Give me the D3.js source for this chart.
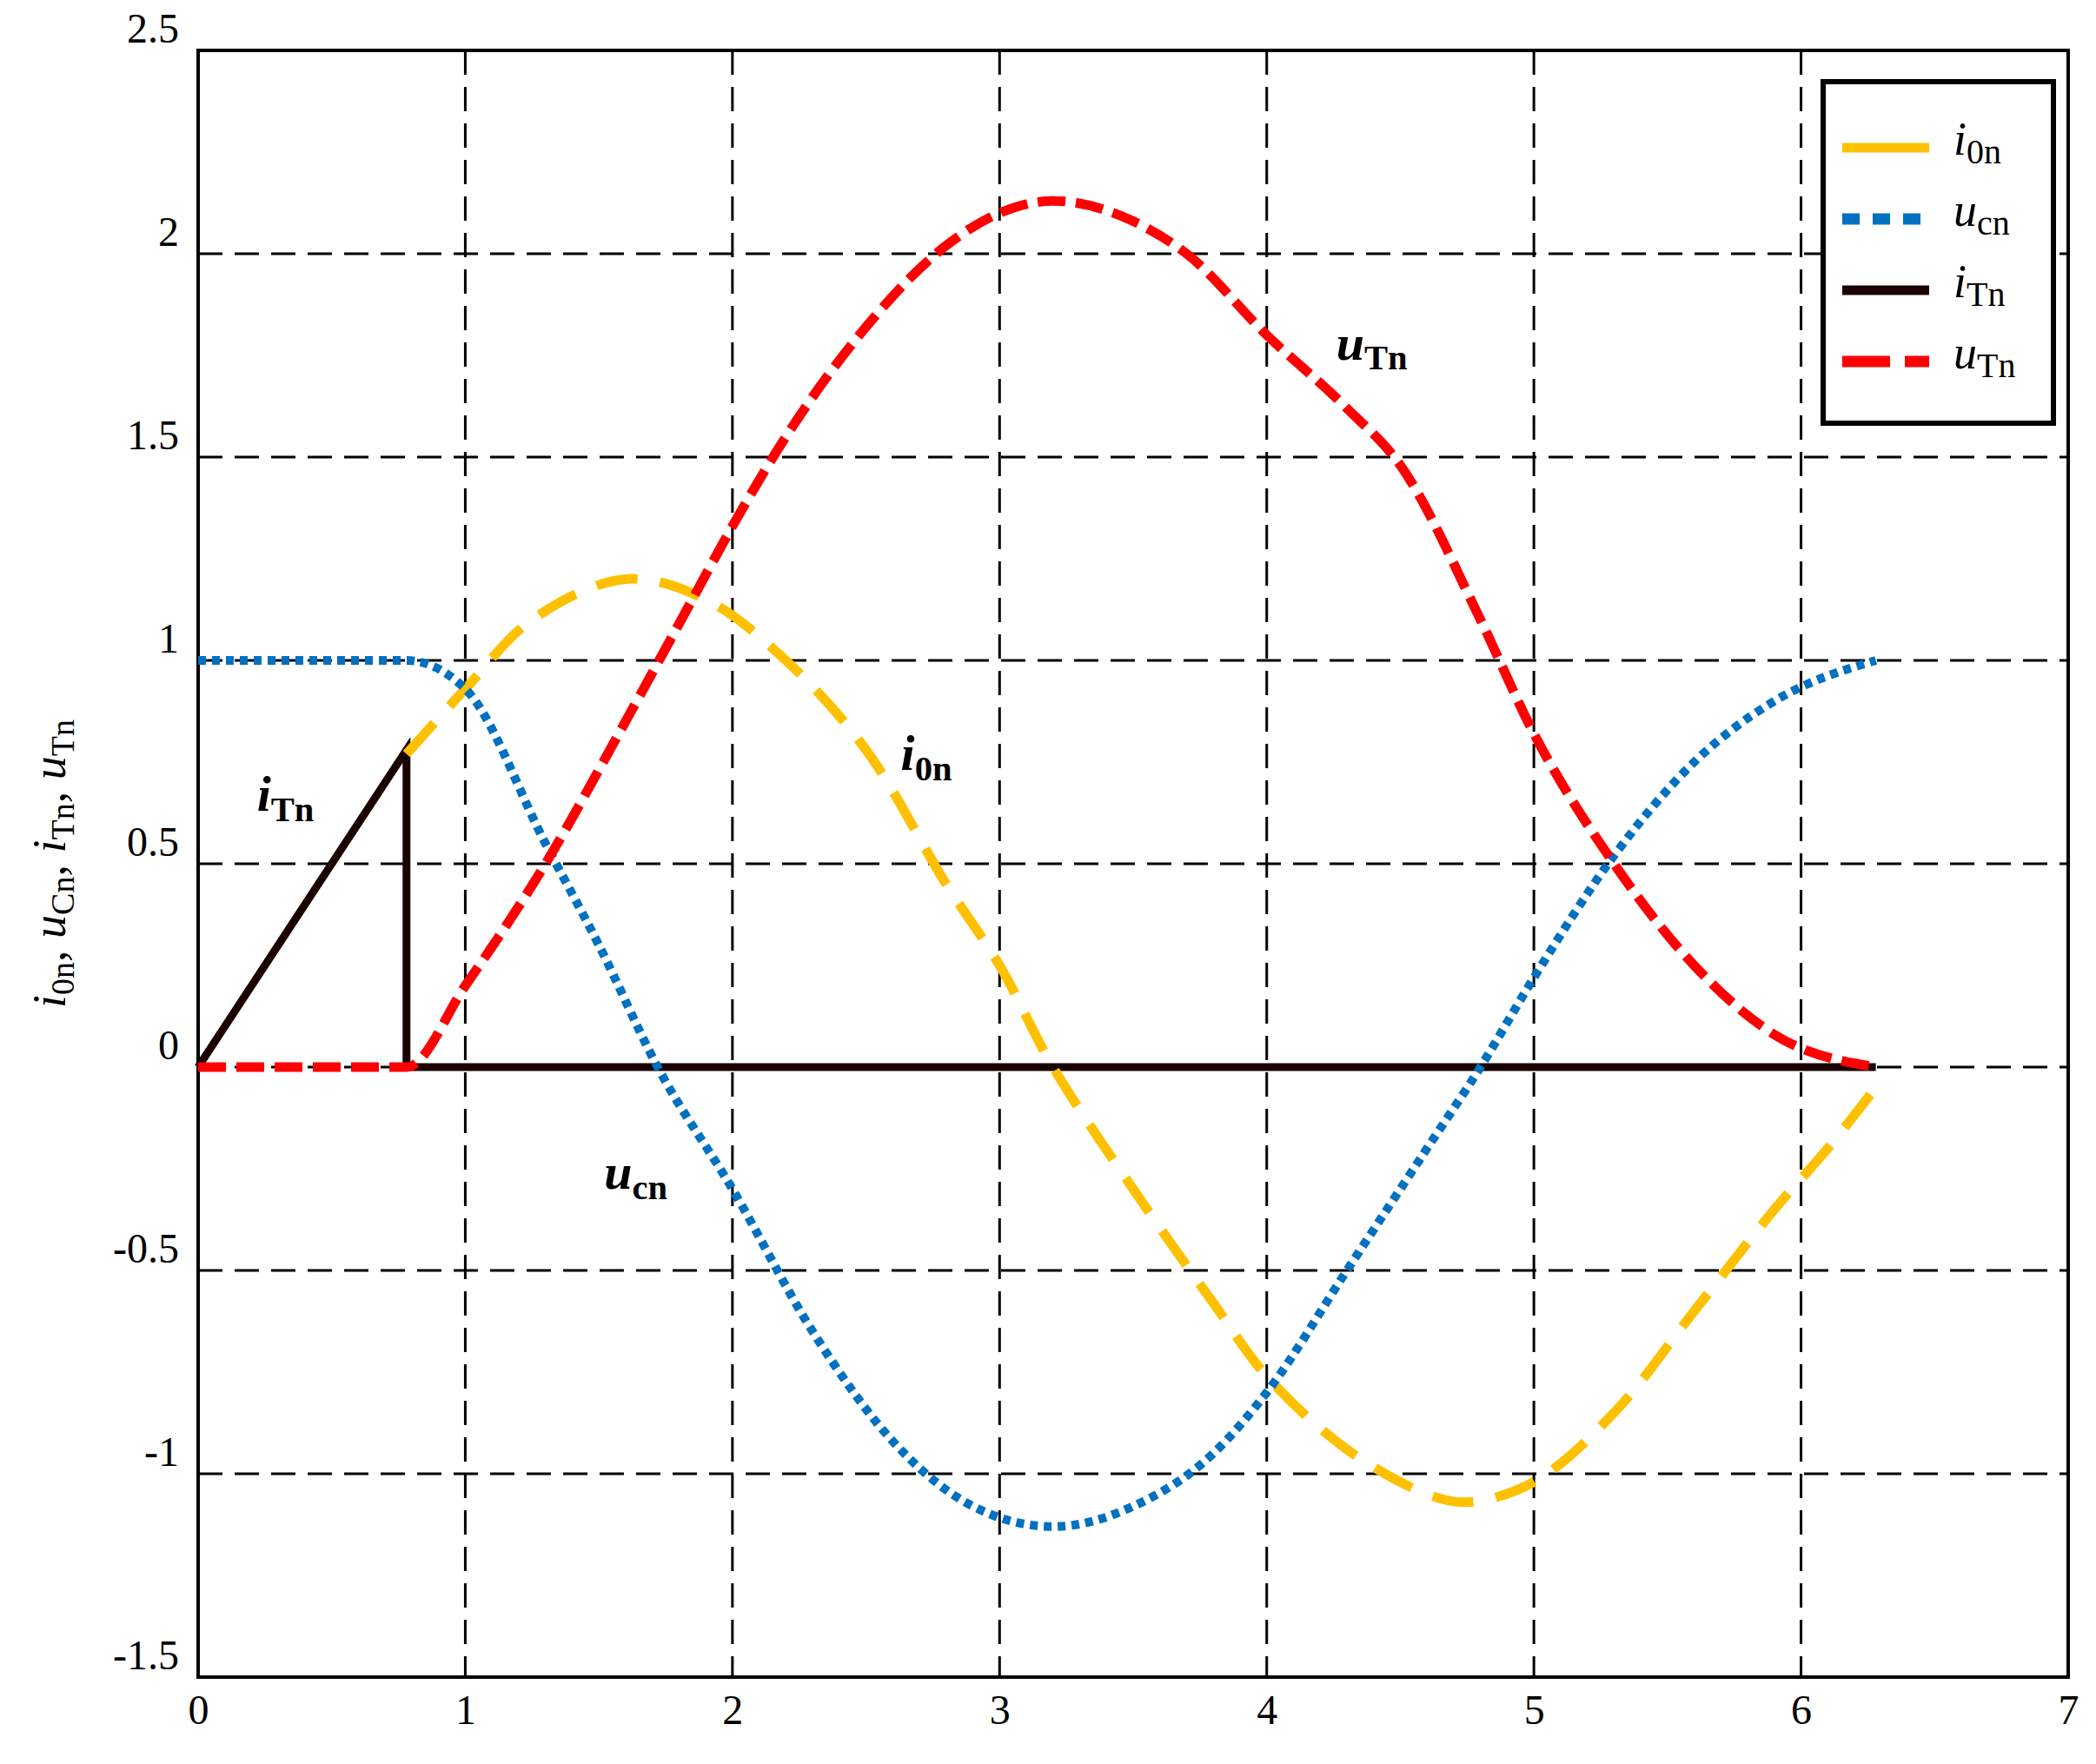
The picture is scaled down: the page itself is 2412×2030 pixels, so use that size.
<!DOCTYPE html>
<html><head><meta charset="utf-8">
<script src="https://cdn.jsdelivr.net/npm/d3@7"></script>
<style>body{margin:0;background:#fff}svg text{font-family:"Liberation Serif","DejaVu Serif",serif}</style>
</head><body><svg id="c" width="2412" height="2030"></svg>
<script>
const xTicks=[0,1,2,3,4,5,6,7];
const yTicks=[-1.5,-1,-0.5,0,0.5,1,1.5,2,2.5];
const i0nX=[0.78,1,1.25,1.6,1.9,2.2,2.5,2.8,3.0,3.2,3.5,3.8,4.0,4.3,4.6,4.75,5.0,5.3,5.6,5.9,6.1,6.28];
const i0nY=[0.77,0.93,1.1,1.2,1.15,1.0,0.78,0.45,0.25,0.0,-0.3,-0.58,-0.76,-0.94,-1.05,-1.07,-1.02,-0.85,-0.6,-0.35,-0.2,-0.05];
const ucnX=[0,0.78,1,1.3,1.5,1.72,2,2.3,2.6,2.9,3.2,3.5,3.8,4,4.3,4.6,4.8,5.0,5.3,5.6,5.9,6.28];
const ucnY=[1,1,0.93,0.55,0.3,0,-0.3,-0.65,-0.92,-1.08,-1.13,-1.08,-0.95,-0.8,-0.5,-0.2,0,0.22,0.52,0.75,0.9,1.0];
const uTnX=[0,0.78,1,1.3,1.6,1.85,2.0,2.2,2.5,2.8,3.0,3.2,3.5,3.7,4.0,4.3,4.5,4.8,5.0,5.3,5.6,5.9,6.28];
const uTnY=[0,0,0.2,0.5,0.85,1.15,1.33,1.55,1.82,2.02,2.1,2.13,2.08,2.0,1.8,1.62,1.48,1.1,0.82,0.5,0.25,0.08,0];
const iTnX=[0,0.78,0.78,6.28];
const iTnY=[0,0.78,0,0];

const svg=d3.select("#c");
const L=228,R=2380,T=58,B=1930;
const x=d3.scaleLinear().domain([0,7]).range([L,R]);
const y=d3.scaleLinear().domain([-1.5,2.5]).range([B,T]);
const g=svg.append("g");
xTicks.slice(1,-1).forEach(t=>g.append("line").attr("x1",x(t)).attr("x2",x(t)).attr("y1",T).attr("y2",B).attr("stroke","#000").attr("stroke-width",3).attr("stroke-dasharray","28,14"));
yTicks.slice(1,-1).forEach(t=>g.append("line").attr("x1",L).attr("x2",R).attr("y1",y(t)).attr("y2",y(t)).attr("stroke","#000").attr("stroke-width",3).attr("stroke-dasharray","28,14"));
svg.append("rect").attr("x",L).attr("y",T).attr("width",R-L).attr("height",B-T).attr("fill","none").attr("stroke","#000").attr("stroke-width",4);
const xa=svg.append("g").attr("transform",`translate(0,${B})`).call(d3.axisBottom(x).tickValues(xTicks).tickSize(0).tickPadding(20).tickFormat(d=>String(d)));
const ya=svg.append("g").attr("transform",`translate(${L},0)`).call(d3.axisLeft(y).tickValues(yTicks).tickSize(0).tickPadding(22).tickFormat(d=>String(d)));
[xa,ya].forEach(a=>{a.select(".domain").remove();a.selectAll("text").attr("font-size",48).attr("font-family","Liberation Serif").attr("fill","#000");});
ya.selectAll("text").attr("dy","-0.2em");
const line=c=>d3.line().x(d=>x(d[0])).y(d=>y(d[1])).curve(c);
const zip=(a,b)=>a.map((v,i)=>[v,b[i]]);
svg.append("path").datum(zip(iTnX,iTnY)).attr("d",line(d3.curveLinear)).attr("fill","none").attr("stroke","#1a0000").attr("stroke-width",9);
svg.append("path").datum(zip(i0nX,i0nY)).attr("d",line(d3.curveCatmullRom)).attr("fill","none").attr("stroke","#FFC000").attr("stroke-width",11).attr("stroke-dasharray","48,26");
svg.append("path").datum(zip(ucnX,ucnY)).attr("d",line(d3.curveMonotoneX)).attr("fill","none").attr("stroke","#0070C0").attr("stroke-width",10).attr("stroke-dasharray","9,7");
svg.append("path").datum(zip(uTnX,uTnY)).attr("d",line(d3.curveMonotoneX)).attr("fill","none").attr("stroke","#FF0000").attr("stroke-width",11).attr("stroke-dasharray","32,12");
function lab(px,py,main,sub,size){const t=svg.append("text").attr("x",px).attr("y",py).attr("font-size",size).attr("font-weight","bold").attr("font-style","italic");
 t.append("tspan").text(main);t.append("tspan").attr("font-size",size*0.7).attr("font-style","normal").attr("dy",size*0.2).text(sub);}
lab(x(4.26),y(1.74),"u","Tn",58);
lab(x(2.63),y(0.73),"i","0n",58);
lab(x(0.22),y(0.63),"i","Tn",58);
lab(x(1.52),y(-0.3),"u","cn",58);
const yl=svg.append("text").attr("transform",`translate(75,${y(0.5)}) rotate(-90)`).attr("text-anchor","middle").attr("font-size",54);
[["i","0n",", "],["u","Cn",", "],["i","Tn",", "],["u","Tn",""]].forEach(p=>{yl.append("tspan").attr("font-style","italic").text(p[0]);yl.append("tspan").attr("font-size",38).attr("dy",10).text(p[1]);yl.append("tspan").attr("dy",-10).text(p[2]);});
svg.append("rect").attr("x",2098).attr("y",94).attr("width",265).attr("height",393).attr("fill","#fff").attr("stroke","#000").attr("stroke-width",6);
const items=[["i","0n","#FFC000","75,0",11],["u","cn","#0070C0","20,15",13],["i","Tn","#1a0000","100,0",11],["u","Tn","#FF0000","55,17",13]];
items.forEach((it,k)=>{const yy=170+k*82;
 svg.append("line").attr("x1",2120).attr("x2",2220).attr("y1",yy).attr("y2",yy).attr("stroke",it[2]).attr("stroke-width",it[4]).attr("stroke-dasharray",it[3]);
 const t=svg.append("text").attr("x",2248).attr("y",yy+8).attr("font-size",54);
 t.append("tspan").attr("font-style","italic").text(it[0]);t.append("tspan").attr("font-size",40).attr("dy",10).text(it[1]);});
</script></body></html>
